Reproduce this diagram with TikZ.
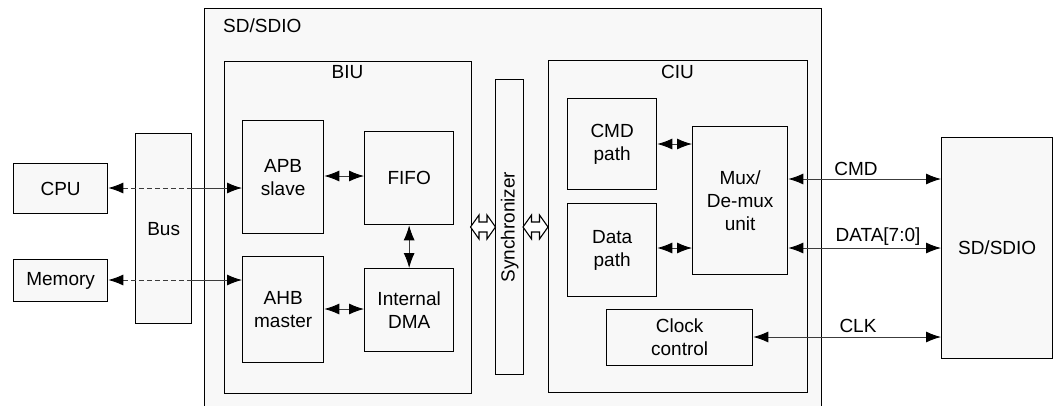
\documentclass[tikz,border=0pt]{standalone}
\usepackage{fontspec}
\setmainfont{Liberation Sans}
\usetikzlibrary{arrows.meta,calc}
\definecolor{boxfill}{RGB}{248,248,248}
\definecolor{linegray}{RGB}{60,60,60}
\newcommand{\boxfont}{\fontsize{19}{23}\selectfont}
\tikzset{
  blk/.style={draw=black, line width=1.3pt, fill=boxfill, inner sep=0pt, align=center, font=\boxfont, anchor=north west},
  lbl/.style={inner sep=0pt, font=\boxfont, anchor=base},
  conn/.style={draw=linegray, line width=0.9pt},
  dconn/.style={conn, dash pattern=on 5pt off 3pt},
  tip/.tip={Latex[length=15pt,width=11pt,color=black]},
  hollow/.pic={\draw[line width=1.1pt, fill=white, line join=miter]
     (-12.5,0) -- (-4,-12) -- (-4,-5) -- (4,-5) -- (4,-12) -- (12.5,0) -- (4,12) -- (4,5) -- (-4,5) -- (-4,12) -- cycle;}
}
\begin{document}
\begin{tikzpicture}[x=1pt,y=-1pt]
\useasboundingbox (0,0) rectangle (1060,405);
\clip (0,0) rectangle (1060,405);
\fill[white] (0,0) rectangle (1060,405);
% outer SD/SDIO controller
\node[blk, minimum width=617pt, minimum height=420pt] (ctrl) at (204,8) {};
\node[lbl, anchor=base west] (ctrllbl) at (223,32) {SD/SDIO};
% BIU, CIU, synchronizer
\node[blk, minimum width=247pt, minimum height=332pt] (biu) at (224,61) {};
\node[lbl] (biulbl) at (347.5,78) {BIU};
\node[blk, minimum width=259pt, minimum height=332pt] (ciu) at (548,60) {};
\node[lbl] (ciulbl) at (677.5,78) {CIU};
\node[blk, minimum width=28pt, minimum height=295pt] (sync) at (495,79) {};
\node[font=\boxfont, rotate=90, inner sep=0pt] (synclbl) at (sync.center) {Synchronizer};
% left side
\node[blk, minimum width=94pt, minimum height=50pt] (cpu) at (13,163) {CPU};
\node[blk, minimum width=94pt, minimum height=42pt] (mem) at (13,259) {Memory};
\node[blk, minimum width=56pt, minimum height=190pt] (bus) at (135,133) {Bus};
% BIU contents
\node[blk, minimum width=81pt, minimum height=113pt] (apb) at (242,120) {APB\\slave};
\node[blk, minimum width=89pt, minimum height=93pt] (fifo) at (364,131) {FIFO};
\node[blk, minimum width=81pt, minimum height=106pt] (ahb) at (242,256) {AHB\\master};
\node[blk, minimum width=89pt, minimum height=83pt] (dma) at (364,268) {Internal\\DMA};
% CIU contents
\node[blk, minimum width=89pt, minimum height=91pt] (cmdp) at (567,98) {CMD\\path};
\node[blk, minimum width=89pt, minimum height=93pt] (datap) at (567,203) {Data\\path};
\node[blk, minimum width=95pt, minimum height=148pt] (mux) at (692,126) {Mux/\\De-mux\\unit};
\node[blk, minimum width=146pt, minimum height=56pt] (clk) at (606,309) {Clock\\control};
% card
\node[blk, minimum width=111pt, minimum height=221pt] (card) at (941,137) {SD/SDIO};
% connectors left
\coordinate (cpuy) at (0,188);
\coordinate (memy) at (0,280);
\draw[dconn, tip-] (cpu.east |- cpuy) -- (bus.east |- cpuy);
\draw[conn, -tip] (bus.east |- cpuy) -- (apb.west |- cpuy);
\draw[dconn, tip-] (mem.east |- memy) -- (bus.east |- memy);
\draw[conn, -tip] (bus.east |- memy) -- (ahb.west |- memy);
% BIU internal
\coordinate (apby) at (0,176);
\coordinate (ahby) at (0,309);
\draw[conn, tip-tip] (apb.east |- apby) -- (fifo.west |- apby);
\draw[conn, tip-tip] (ahb.east |- ahby) -- (dma.west |- ahby);
\draw[conn, tip-tip] (fifo.south) -- (dma.north);
% synchronizer hollow arrows
\pic at (483,227) {hollow};
\pic at (535.5,227) {hollow};
% CIU internal
\coordinate (cmdpy) at (0,144);
\coordinate (datapy) at (0,248);
\draw[conn, tip-tip] (cmdp.east |- cmdpy) -- (mux.west |- cmdpy);
\draw[conn, tip-tip] (datap.east |- datapy) -- (mux.west |- datapy);
% card lines
\coordinate (cmdy) at (0,179);
\coordinate (datay) at (0,248);
\coordinate (clky) at (0,337);
\draw[conn, tip-tip] (mux.east |- cmdy) -- (card.west |- cmdy);
\draw[conn, tip-tip] (mux.east |- datay) -- (card.west |- datay);
\draw[conn, tip-tip] (clk.east |- clky) -- (card.west |- clky);
\node[lbl] (cmdlbl) at (856,175) {CMD};
\node[lbl] (datalbl) at (878,241.5) {DATA[7:0]};
\node[lbl] (clklbl) at (858,332.5) {CLK};
\end{tikzpicture}
\end{document}
